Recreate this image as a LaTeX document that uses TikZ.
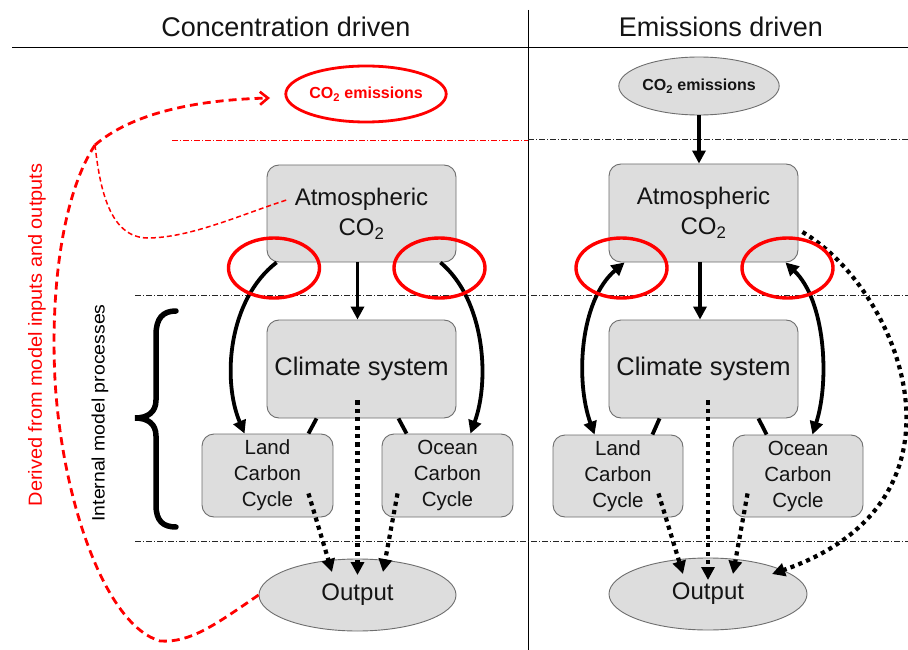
\documentclass[tikz,border=0pt]{standalone}
\usepackage{fontspec}
\setmainfont{Liberation Sans}
\usetikzlibrary{calc,arrows.meta,shapes.geometric}
\definecolor{boxfill}{RGB}{221,221,221}
\definecolor{boxline}{RGB}{110,110,110}
\definecolor{myred}{RGB}{255,0,0}
\definecolor{txt}{RGB}{20,20,20}
\begin{document}
\begin{tikzpicture}[x=1pt,y=-1pt,
  box/.style={draw=boxline,fill=boxfill,rounded corners=12pt,line width=0.9pt,align=center,inner sep=0pt,text=txt},
  oval/.style={ellipse,draw=boxline,fill=boxfill,line width=0.9pt,inner sep=0pt,text=txt},
  hl/.style={ellipse,draw=myred,line width=3.4pt,inner sep=0pt,minimum width=91pt,minimum height=60pt},
  flow/.style={line width=3.8pt,-{Triangle[length=13pt,width=13pt]}},
  flowboth/.style={line width=3.8pt,{Triangle[length=13pt,width=13pt]}-{Triangle[length=13pt,width=13pt]}},
  link/.style={line width=3.8pt},
  dots/.style={line width=4.2pt,dash pattern=on 4.2pt off 4.2pt,-{Triangle[length=13pt,width=13pt]}},
  sep/.style={line width=0.7pt,draw=black!85,dash pattern=on 6pt off 2pt on 1pt off 2pt},
  bigf/.style={font=\fontsize{24}{30}\selectfont},
  midf/.style={font=\fontsize{20.5}{26}\selectfont},
]
\useasboundingbox (0,0) rectangle (908,650);
\fill[white] (0,0) rectangle (908,650);

% headers and frame
\node[font=\fontsize{27}{30}\selectfont,text=txt] (hc) at (286,27) {Concentration driven};
\node[font=\fontsize{27}{30}\selectfont,text=txt] (he) at (721,27) {Emissions driven};
\draw[line width=0.8pt] (12,47) -- (908,47);
\draw[line width=0.8pt] (528,10) -- (528,650);

% separators
\draw[sep,draw=myred] (172,140) -- (528,140);
\draw[sep] (528,139) -- (908,139);
\draw[sep] (135,295) -- (908,295);
\draw[sep] (135,541) -- (908,541);

% ---------- left panel ----------
\node[ellipse,draw=myred,line width=2.8pt,fill=white,minimum width=132pt,minimum height=56pt,inner sep=0pt,text=myred,font=\fontsize{16}{18}\selectfont\bfseries] (emL) at (366,94) {CO\textsubscript{2} emissions};
\node[box,bigf,minimum width=189pt,minimum height=97pt] (atmL) at (361.5,213.5) {Atmospheric\\CO\textsubscript{2}};
\node[box,font=\fontsize{25.5}{30}\selectfont,minimum width=189pt,minimum height=98pt] (climL) at (361.5,369) {Climate system};
\node[box,midf,minimum width=131pt,minimum height=83pt] (landL) at (267.5,475.5) {Land\\Carbon\\Cycle};
\node[box,midf,minimum width=131pt,minimum height=83pt] (oceanL) at (447.5,475.5) {Ocean\\Carbon\\Cycle};
\node[oval,bigf,minimum width=197pt,minimum height=72pt] (outL) at (357.5,595) {Output};

\draw[flow] ([xshift=-4pt]atmL.south) -- ([xshift=-4pt]climL.north);
\draw[flow] ([xshift=10pt]atmL.south west) .. controls (228,300) and (222,380) .. ([xshift=43pt]landL.north west);
\draw[flow] ([xshift=-16pt]atmL.south east) .. controls (485,300) and (490,380) .. ([xshift=-43pt]oceanL.north east);
\draw[link] ([xshift=50pt]climL.south west) -- ([xshift=-25pt]landL.north east);
\draw[link] ([xshift=-58pt]climL.south east) -- ([xshift=25pt]oceanL.north west);
\draw[dots] ($(climL.south)+(-4,-18)$) -- ($(outL.center)+(0,-20)$);
\draw[dots] ($(landL.south east)+(-25,-24)$) -- ($(outL.center)+(-25.5,-23)$);
\draw[dots] ($(oceanL.south west)+(16,-24)$) -- ($(outL.center)+(25.5,-23)$);

\node[hl] (rL1) at (274,268) {};
\node[hl] (rL2) at (439.5,268) {};

% red derivation curves
\coordinate (jct) at (95,145);
\coordinate (emtip) at (270,98);
\coordinate (bot) at (160,641);
\coordinate (lft) at (55,380);
\coordinate (lowl) at (147,238);
\draw[myred,line width=2.8pt,dash pattern=on 8pt off 5pt] (outL.west) .. controls (215,625) and (190,643) .. (bot)
   .. controls (105,625) and (62,500) .. (lft)
   .. controls (50,280) and (65,190) .. (jct);
\draw[myred,line width=2.8pt,dash pattern=on 8pt off 5pt,-{Straight Barb[length=8pt,width=13pt,line width=2.6pt]}] (jct) .. controls (130,115) and (190,100) .. (emtip);
\draw[myred,line width=1.5pt,dash pattern=on 5pt off 3pt] (jct) .. controls (100,190) and (110,237) .. (lowl)
   .. controls (190,238) and (240,215) .. ($(atmL.west)+(20,-13.5)$);

\node[rotate=90,text=myred,font=\fontsize{19}{22}\selectfont] (derived) at (37,335) {\scalebox{1.05}[1]{Derived from model inputs and outputs}};
\node[rotate=90,text=black,font=\fontsize{18}{21}\selectfont] (internal) at (100,413) {\scalebox{1.08}[1]{Internal model processes}};
\draw[line width=5.5pt,line cap=round] (176,311) .. controls (163,311) and (156,318) .. (156,335) -- (156,400)
  .. controls (156,412) and (148,418) .. (135,418)
  .. controls (148,418) and (156,424) .. (156,436) -- (156,505)
  .. controls (156,521) and (163,527) .. (176,527);

% ---------- right panel ----------
\node[oval,minimum width=132pt,minimum height=58pt,font=\fontsize{16}{18}\selectfont\bfseries] (emR) at (699,86) {CO\textsubscript{2} emissions};
\node[box,bigf,minimum width=189pt,minimum height=98pt] (atmR) at (703.5,213) {Atmospheric\\CO\textsubscript{2}};
\node[box,font=\fontsize{25.5}{30}\selectfont,minimum width=189pt,minimum height=98pt] (climR) at (703.5,369) {Climate system};
\node[box,midf,minimum width=130pt,minimum height=82pt] (landR) at (618,476) {Land\\Carbon\\Cycle};
\node[box,midf,minimum width=130pt,minimum height=82pt] (oceanR) at (798,476) {Ocean\\Carbon\\Cycle};
\node[oval,bigf,minimum width=198pt,minimum height=72pt] (outR) at (708,594) {Output};

\draw[flow] (emR.south) -- (emR.south |- atmR.north);
\draw[flow] ([xshift=-3.5pt]atmR.south) -- ([xshift=-3.5pt]climR.north);
\draw[flowboth] ([xshift=16pt]atmR.south west) .. controls (580,300) and (575,380) .. ([xshift=42pt]landR.north west);
\draw[flowboth] ([xshift=-13pt]atmR.south east) .. controls (825,300) and (830,380) .. ([xshift=-51pt]oceanR.north east);
\draw[link] ([xshift=51pt]climR.south west) -- ([xshift=-31pt]landR.north east);
\draw[link] ([xshift=-40pt]climR.south east) -- ([xshift=34pt]oceanR.north west);
\draw[dots] ($(climR.south)+(4.5,-18)$) -- ($(outR.center)+(0,-14)$);
\draw[dots] ($(landR.south east)+(-25,-24)$) -- ($(outR.center)+(-25,-20)$);
\draw[dots] ($(oceanR.south west)+(15,-24)$) -- ($(outR.center)+(25,-20)$);
\draw[dots] ($(atmR.east)+(4,19)$) .. controls (900,290) and (985,500) .. ($(outR.center)+(64,-20)$);

\node[hl] (rR1) at (621.5,268) {};
\node[hl] (rR2) at (787.5,268) {};
\end{tikzpicture}
\end{document}
